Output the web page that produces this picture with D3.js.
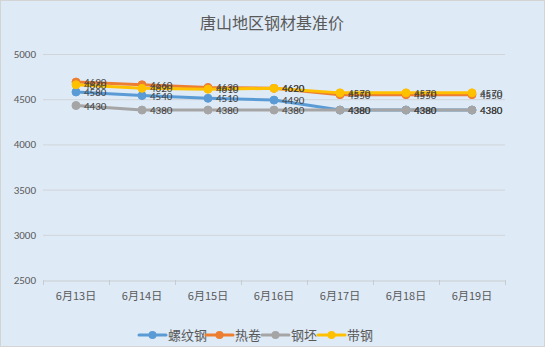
<!DOCTYPE html>
<html><head><meta charset="utf-8">
<script src="https://cdn.jsdelivr.net/npm/d3@7"></script>
<style>
html,body{margin:0;padding:0;background:#fff;}
svg{display:block;font-family:"Noto Sans CJK SC","Microsoft YaHei",sans-serif;}
</style></head><body>
<svg id="c" width="545" height="347"></svg>
<script>
const title = "唐山地区钢材基准价";
const categories = ["6月13日","6月14日","6月15日","6月16日","6月17日","6月18日","6月19日"];
const seriesNames = ["螺纹钢","热卷","钢坯","带钢"];
const rebar = [4580,4540,4510,4490,4380,4380,4380];
const hotCoil = [4690,4660,4630,4620,4550,4550,4550];
const billet = [4430,4380,4380,4380,4380,4380,4380];
const strip = [4660,4620,4610,4620,4570,4570,4570];
const yTicks = [2500,3000,3500,4000,4500,5000];
const colors = ["#5B9BD5","#ED7D31","#A5A5A5","#FFC000"];

const series = [rebar, hotCoil, billet, strip];
const svg = d3.select("#c");
const W = 545, H = 347;
svg.append("rect").attr("x",0.5).attr("y",0.5).attr("width",W-1).attr("height",H-1)
  .attr("fill","#DEEAF6").attr("stroke","#D4D4D4");

svg.append("text").attr("x",272).attr("y",29).attr("text-anchor","middle")
  .attr("font-size",16).attr("fill","#595959").text(title);

const x = d3.scaleBand().domain(categories).range([43,505]);
const y = d3.scaleLinear().domain([2500,5000]).range([280,54]);

// gridlines
svg.append("g").selectAll("line").data(yTicks.filter(t=>t>2500)).join("line")
  .attr("x1",43).attr("x2",505).attr("y1",d=>y(d)+0.5).attr("y2",d=>y(d)+0.5)
  .attr("stroke","#D0D4D9").attr("stroke-width",1);

// y axis labels
svg.append("g").selectAll("text").data(yTicks).join("text")
  .attr("x",36).attr("y",d=>y(d)+4).attr("text-anchor","end")
  .attr("font-size",11).attr("fill","#595959").attr("font-family","Calibri,'Liberation Sans',sans-serif").text(d=>d);

// x axis
const xa = svg.append("g").attr("transform","translate(0,280.5)")
  .call(d3.axisBottom(x).tickSize(0).tickPadding(12));
xa.select(".domain").attr("stroke","#C8CCD1");
xa.selectAll("text").attr("font-size",11).attr("fill","#595959")
  .attr("font-family","'Noto Sans CJK SC',sans-serif");
const bounds = categories.map(c=>x(c)).concat([x.range()[1]]);
svg.append("g").selectAll("line").data(bounds).join("line")
  .attr("x1",d=>Math.round(d)+0.5).attr("x2",d=>Math.round(d)+0.5)
  .attr("y1",280).attr("y2",285).attr("stroke","#C8CCD1");

const cx = c => x(c)+x.bandwidth()/2;
const line = d3.line().x((d,i)=>cx(categories[i])).y(d=>y(d));

series.forEach((s,k)=>{
  const g = svg.append("g");
  g.append("path").datum(s).attr("d",line).attr("fill","none")
    .attr("stroke",colors[k]).attr("stroke-width",3).attr("stroke-linecap","round").attr("stroke-linejoin","round");
  g.selectAll("circle").data(s).join("circle")
    .attr("cx",(d,i)=>cx(categories[i])).attr("cy",d=>y(d)).attr("r",4)
    .attr("fill",colors[k]).attr("stroke",colors[k]);
});
series.forEach((s,k)=>{
  svg.append("g").selectAll("text").data(s).join("text")
    .attr("x",(d,i)=>cx(categories[i])+8).attr("y",d=>y(d)+4)
    .attr("font-size",11).attr("fill","#404040")
    .attr("font-family","Calibri,'Liberation Sans',sans-serif").text(d=>d);
});

// legend
const lg = svg.append("g");
let lx = 139;
const widths = [67,56,56,56];
seriesNames.forEach((n,k)=>{
  const g = lg.append("g").attr("transform",`translate(${lx},335)`);
  g.append("line").attr("x1",0).attr("x2",27).attr("y1",0).attr("y2",0)
    .attr("stroke",colors[k]).attr("stroke-width",3).attr("stroke-linecap","round");
  g.append("circle").attr("cx",13.5).attr("cy",0).attr("r",4).attr("fill",colors[k]);
  g.append("text").attr("x",29).attr("y",5).attr("font-size",13).attr("fill","#595959").text(n);
  lx += widths[k];
});
</script>
</body></html>
